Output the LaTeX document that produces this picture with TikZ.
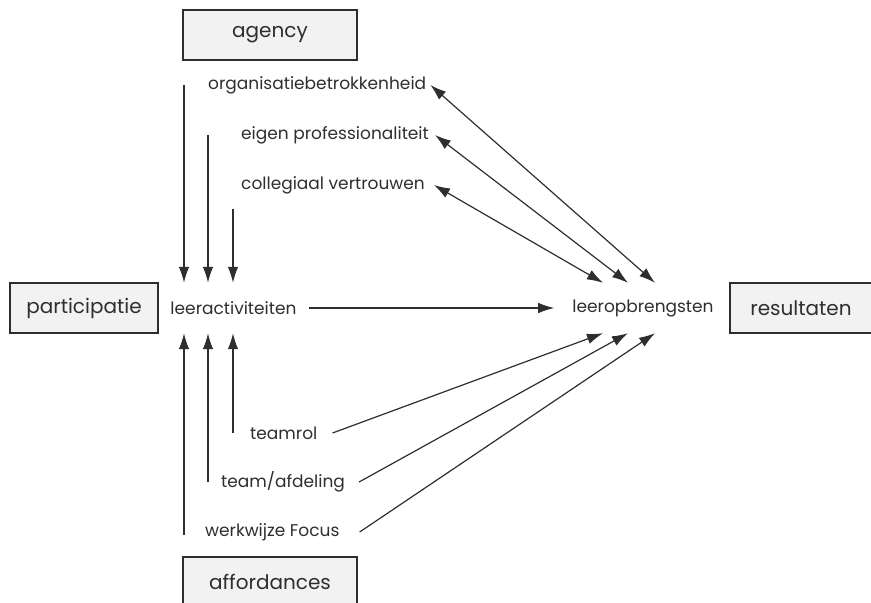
\documentclass[tikz,border=0pt]{standalone}
\usepackage{fontspec}
\setmainfont{Poppins}
\usetikzlibrary{arrows.meta}

\definecolor{inkt}{HTML}{2E2E2E}
\definecolor{kaderfill}{HTML}{F1F2F1}

\begin{document}
\begin{tikzpicture}[x=1pt,y=-1pt,
    kader/.style={draw=inkt,fill=kaderfill,line width=1.1pt,minimum height=50pt,
      font=\fontsize{20}{24}\selectfont,text=inkt},
    term/.style={inner sep=4pt,font=\fontsize{17}{20}\selectfont,text=inkt},
    pijl/.style={draw=inkt,line width=1.2pt,-{Latex[length=16pt,width=10.5pt]}},
    dubbel/.style={draw=inkt,line width=1.2pt,{Latex[length=16pt,width=10.5pt]}-{Latex[length=16pt,width=10.5pt]}}]

  \useasboundingbox (0,0) rectangle (871,603);

  % de vier kaders
  \node[kader,minimum width=174pt] (agency) at (270,35) {agency};
  \node[kader,minimum width=148pt] (participatie) at (84,308) {participatie};
  \node[kader,minimum width=142pt] (resultaten) at (801,308) {resultaten};
  \node[kader,minimum width=174pt] (affordances) at (270,582) {affordances};

  % middenlijn
  \node[term,inner xsep=12pt,minimum height=50pt] (leer) at (233.5,308) {leeractiviteiten};
  \node[term,inner xsep=18pt,minimum height=50pt] (opbr) at (643,308) {leeropbrengsten};
  \draw[pijl] (leer) -- (opbr);

  % agency-kant
  \node[term,anchor=west] (org) at (204,85) {organisatiebetrokkenheid};
  \node[term,anchor=west] (eigen) at (237,135) {eigen professionaliteit};
  \node[term,anchor=west] (coll) at (237,185) {collegiaal vertrouwen};

  % affordances-kant
  \node[term,anchor=west] (rol) at (246,433) {teamrol};
  \node[term,anchor=west] (afd) at (217,482) {team/afdeling};
  \node[term,anchor=west] (focus) at (201,532) {werkwijze Focus};

  % verticale pijlen naar leeractiviteiten
  \foreach \x/\ys/\n in {184/85/a, 208/135/b, 233/209/c}{
    \coordinate (boven\n) at (\x,\ys);
    \draw[pijl] (boven\n) -- (boven\n |- leer.north);
  }
  \foreach \x/\ys/\n in {184/535/a, 208/482/b, 233/433/c}{
    \coordinate (onder\n) at (\x,\ys);
    \draw[pijl] (onder\n) -- (onder\n |- leer.south);
  }

  % naar leeropbrengsten
  \draw[dubbel] (org.east) -- ([xshift=12pt]opbr.north);
  \draw[dubbel] ([xshift=2pt]eigen.east) -- ([xshift=-15pt]opbr.north);
  \draw[dubbel] ([xshift=5pt]coll.east) -- ([xshift=-40pt]opbr.north);
  \draw[pijl] ([xshift=11pt]rol.east) -- ([xshift=-40pt]opbr.south);
  \draw[pijl] ([xshift=10pt]afd.east) -- ([xshift=-15pt]opbr.south);
  \draw[pijl] ([xshift=16pt]focus.east) -- ([xshift=12pt]opbr.south);
\end{tikzpicture}
\end{document}
